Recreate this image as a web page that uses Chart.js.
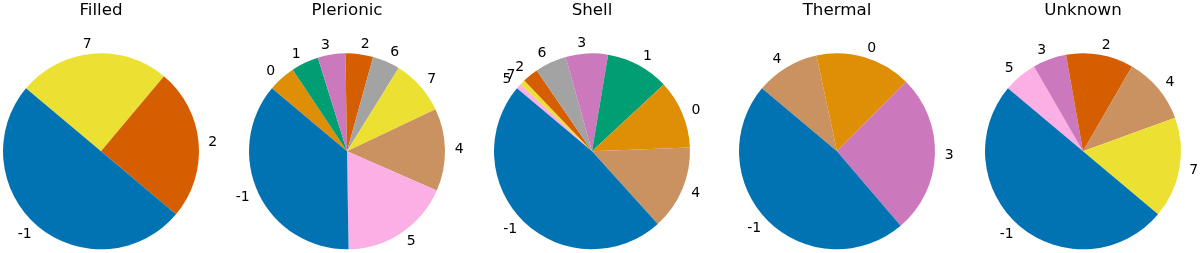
<!DOCTYPE html>
<html>
<head>
<meta charset="utf-8">
<script src="https://cdn.jsdelivr.net/npm/chart.js@4/dist/chart.umd.min.js"></script>
<style>
  html, body { margin: 0; padding: 0; background: #ffffff; width: 1200px; height: 253px; overflow: hidden; position: relative; }
  canvas { position: absolute; top: 0; }
</style>
</head>
<body>
<script>
// Panel titles
const titles = ["Filled", "Plerionic", "Shell", "Thermal", "Unknown"];

// Category labels per panel (clockwise order starting at the upper-left)
const filledLabels    = ["7", "2", "-1"];
const plerionicLabels = ["0", "1", "3", "2", "6", "7", "4", "5", "-1"];
const shellLabels     = ["5", "7", "2", "6", "3", "1", "0", "4", "-1"];
const thermalLabels   = ["4", "0", "3", "-1"];
const unknownLabels   = ["5", "3", "2", "4", "7", "-1"];

// Counts per category (same order as labels)
const filledValues    = [1, 1, 2];
const plerionicValues = [1, 1, 1, 1, 1, 2, 3, 4, 8];
const shellValues     = [1, 1, 3, 6, 8, 12, 13, 16, 55];
const thermalValues   = [2, 3, 5, 9];
const unknownValues   = [1, 1, 2, 2, 3, 9];

// Colour per category
const palette = {
  "-1": "#0173b2", "0": "#de8f05", "1": "#029e73", "2": "#d55e00",
  "3": "#cc78bc", "4": "#ca9161", "5": "#fbafe4", "6": "#a3a3a3", "7": "#ece133"
};

const panels = [
  [filledLabels, filledValues],
  [plerionicLabels, plerionicValues],
  [shellLabels, shellValues],
  [thermalLabels, thermalValues],
  [unknownLabels, unknownValues]
];

const FONT = "'DejaVu Sans', sans-serif";

const outsideLabels = {
  id: 'outsideLabels',
  afterDatasetsDraw(chart) {
    const ctx = chart.ctx;
    const meta = chart.getDatasetMeta(0);
    const labels = chart.data.labels;
    ctx.save();
    ctx.font = "14px " + FONT;
    ctx.fillStyle = "#000000";
    ctx.textBaseline = "middle";
    meta.data.forEach((arc, i) => {
      const p = arc.getProps(['x', 'y', 'startAngle', 'endAngle', 'outerRadius'], true);
      const mid = (p.startAngle + p.endAngle) / 2;
      const dx = Math.cos(mid), dy = Math.sin(mid);
      const tx = p.x + 1.1 * p.outerRadius * dx;
      const ty = p.y + 1.1 * p.outerRadius * dy;
      ctx.textAlign = dx > 1e-9 ? "left" : "right";
      ctx.fillText(labels[i], tx, ty);
    });
    ctx.restore();
  }
};

const CW = 240, CH = 253;
panels.forEach((pd, k) => {
  const [labels, values] = pd;
  const cv = document.createElement('canvas');
  cv.width = CW; cv.height = CH;
  cv.style.width = CW + 'px'; cv.style.height = CH + 'px';
  const cx = 101.2 + 245.4 * k;
  cv.style.left = (cx - CW / 2) + 'px';
  document.body.appendChild(cv);
  new Chart(cv, {
    type: 'pie',
    data: {
      labels: labels,
      datasets: [{
        data: values,
        backgroundColor: labels.map(l => palette[l]),
        borderWidth: 0,
        hoverBorderWidth: 0,
        hoverOffset: 0,
        offset: 0
      }]
    },
    options: {
      responsive: false,
      animation: false,
      rotation: -50,
      layout: { padding: { top: 0, bottom: 3.7, left: 22, right: 22 } },
      plugins: {
        legend: { display: false },
        tooltip: { enabled: false },
        title: {
          display: true,
          text: titles[k],
          color: '#000000',
          font: { family: FONT, size: 16.7, weight: 'normal', lineHeight: 1.2 },
          padding: { top: 1, bottom: 32.3 }
        }
      }
    },
    plugins: [outsideLabels]
  });
});
</script>
</body>
</html>
